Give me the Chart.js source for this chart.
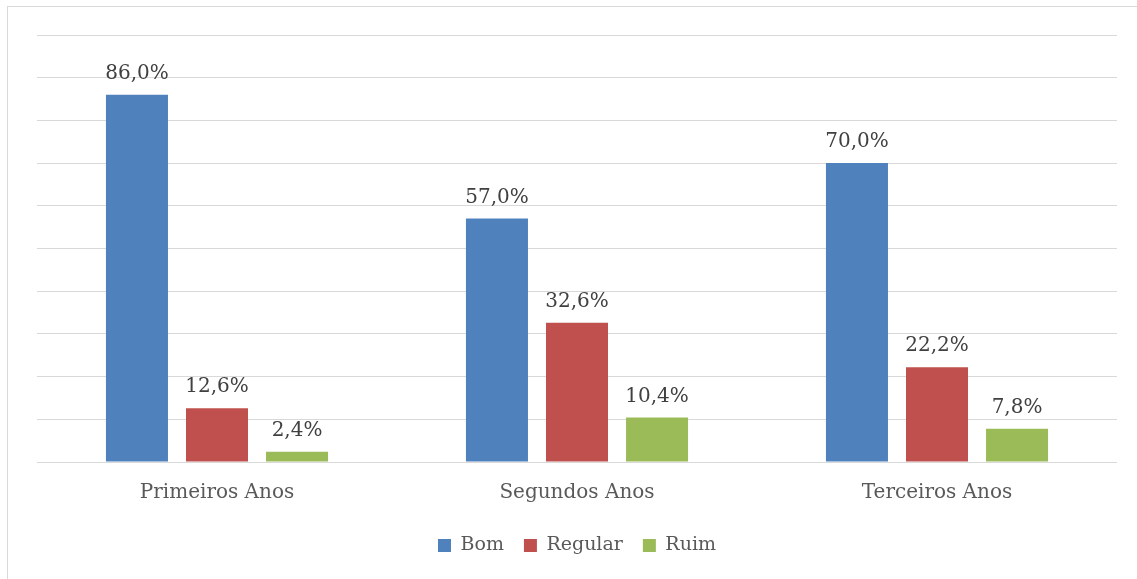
<!DOCTYPE html>
<html>
<head>
<meta charset="utf-8">
<script src="https://cdn.jsdelivr.net/npm/chart.js@4"></script>
<style>
  body { margin: 0; background: #fff; }
  #frame { position: absolute; left: 7px; top: 6px; width: 1200px; height: 640px;
           border: 1px solid #d9d9d9; pointer-events: none; }
  canvas { position: absolute; left: 0; top: 0; }
</style>
</head>
<body>
<canvas id="grafico" width="1137" height="579"></canvas>
<div id="frame"></div>
<script>
// Avaliação por turma
const turmas = ['Primeiros Anos', 'Segundos Anos', 'Terceiros Anos'];
const bom = [86.0, 57.0, 70.0];
const regular = [12.6, 32.6, 22.2];
const ruim = [2.4, 10.4, 7.8];

const fonte = "'DejaVu Serif', serif";

// rótulos de valor em cima das barras
const rotulos = {
    id: 'rotulos',
    afterDatasetsDraw(chart) {
        const ctx = chart.ctx;
        ctx.save();
        ctx.font = '20px ' + fonte;
        ctx.fillStyle = '#404040';
        ctx.textAlign = 'center';
        ctx.textBaseline = 'alphabetic';
        chart.data.datasets.forEach((ds, i) => {
            chart.getDatasetMeta(i).data.forEach((bar, j) => {
                const txt = ds.data[j].toFixed(1).replace('.', ',') + '%';
                ctx.fillText(txt, bar.x, bar.y - 16);
            });
        });
        ctx.restore();
    }
};

document.addEventListener("DOMContentLoaded", function () {
    const ctx = document.getElementById('grafico').getContext('2d');
    new Chart(ctx, {
        type: 'bar',
        data: {
            labels: turmas,
            datasets: [
                { label: 'Bom', data: bom, backgroundColor: '#4f81bd' },
                { label: 'Regular', data: regular, backgroundColor: '#c0504d' },
                { label: 'Ruim', data: ruim, backgroundColor: '#9bbb59' }
            ]
        },
        options: {
            responsive: false,
            animation: false,
            categoryPercentage: 0.667,
            barPercentage: 0.775,
            layout: { padding: { top: 35, left: 37, right: 20, bottom: 14 } },
            plugins: {
                tooltip: { enabled: false },
                legend: {
                    position: 'bottom',
                    labels: {
                        boxWidth: 13,
                        boxHeight: 13,
                        padding: 20,
                        color: '#595959',
                        font: { family: fonte, size: 19 }
                    }
                }
            },
            scales: {
                x: {
                    grid: { display: false, drawTicks: false },
                    border: { display: false },
                    ticks: { padding: 19, color: '#595959', font: { family: fonte, size: 20 } },
                    afterFit(scale) { scale.height = 54; }
                },
                y: {
                    min: 0,
                    max: 100,
                    ticks: { stepSize: 10, display: false },
                    grid: { color: '#d9d9d9', lineWidth: 1, drawTicks: false },
                    border: { display: false }
                }
            }
        },
        plugins: [rotulos]
    });
});
</script>
</body>
</html>
